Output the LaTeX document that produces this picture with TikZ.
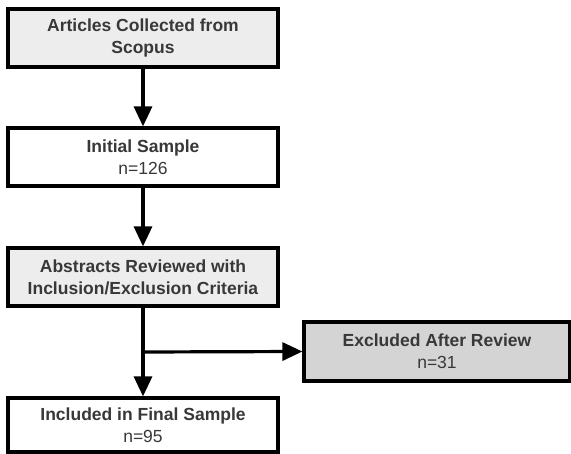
\documentclass[tikz,border=0pt]{standalone}
\usepackage{fontspec}
\setmainfont{Liberation Sans}
\usetikzlibrary{arrows.meta}
\begin{document}
\begin{tikzpicture}[x=1pt,y=-1pt,
  box/.style={draw=black, line width=3.2pt, minimum width=270pt, minimum height=58pt, inner sep=0pt, align=center, text=black!78, font=\fontsize{17.5}{22}\selectfont},
  lightbox/.style={box, fill=black!7},
  darkbox/.style={box, fill=black!17},
  whitebox/.style={box, fill=white},
  arr/.style={line width=3.2pt, -{Triangle[length=20pt,width=18pt]}}
]
\useasboundingbox (0,0) rectangle (571,454);
\node[lightbox] (a) at (143,38) {\textbf{Articles Collected from}\\\textbf{Scopus}};
\node[whitebox] (b) at (143,157) {\textbf{Initial Sample}\\n=126};
\node[lightbox] (c) at (143,277) {\textbf{Abstracts Reviewed with}\\\textbf{Inclusion/Exclusion Criteria}};
\node[darkbox, minimum width=266pt, minimum height=59pt] (d) at (437,351.5) {\textbf{Excluded After Review}\\n=31};
\node[whitebox, minimum height=54pt] (e) at (143,425) {\textbf{Included in Final Sample}\\n=95};
\coordinate (j) at (143,352);
\draw[arr] (a) -- (b);
\draw[arr] (b) -- (c);
\draw[arr] (c) -- (e);
\draw[arr] (j) -- (d.west);
\end{tikzpicture}
\end{document}
